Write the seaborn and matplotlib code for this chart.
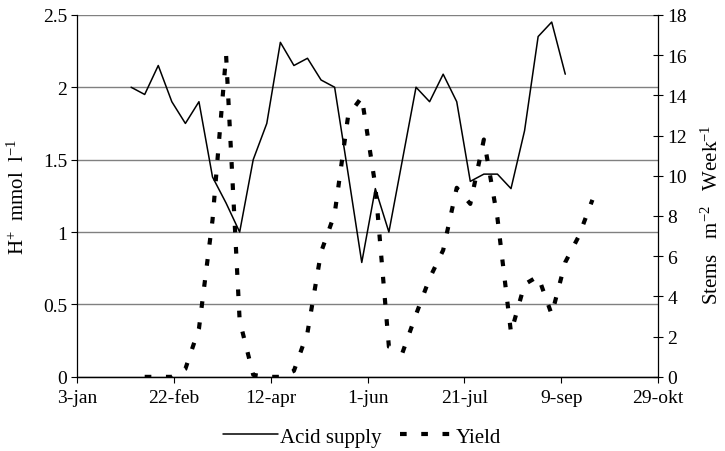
import matplotlib
matplotlib.use('Agg')
import matplotlib.pyplot as plt
import seaborn as sns
import pandas as pd
from matplotlib.lines import Line2D

# days counted from 3-jan
acid_days = [28, 35, 42, 49, 56, 63, 70, 77, 84, 91, 98, 105, 112, 119, 126, 133, 140,
             147, 154, 161, 168, 175, 182, 189, 196, 203, 210, 217, 224, 231, 238, 245, 252]
acid_h = [2.0, 1.95, 2.15, 1.9, 1.75, 1.9, 1.38, 1.2, 1.0, 1.5, 1.75, 2.31, 2.15, 2.2, 2.05, 2.0, 1.4,
          0.79, 1.3, 1.0, 1.5, 2.0, 1.9, 2.09, 1.9, 1.35, 1.4, 1.4, 1.3, 1.7, 2.35, 2.45, 2.09]

yield_days = [35, 42, 49, 56, 63, 70, 77, 84, 91, 98, 105, 112, 119, 126, 133, 140, 147,
              154, 161, 168, 175, 182, 189, 196, 203, 210, 217, 224, 231, 238, 245, 252, 259, 266]
yield_stems = [0, 0, 0, 0.4, 2.4, 7.8, 16.0, 2.8, 0.1, 0, 0, 0.3, 2.2, 6.2, 8.1, 13.0, 13.9,
               9.5, 1.5, 1.2, 3.1, 4.9, 6.3, 9.4, 8.6, 11.8, 7.9, 2.2, 4.6, 5.0, 3.1, 5.7, 7.0, 8.8]

tick_days = [0, 50, 100, 150, 200, 250, 300]
tick_labels = ['3-jan', '22-feb', '12-apr', '1-jun', '21-jul', '9-sep', '29-okt']
left_ticks = [0, 0.5, 1, 1.5, 2, 2.5]
left_labels = ['0', '0.5', '1', '1.5', '2', '2.5']
right_ticks = [0, 2, 4, 6, 8, 10, 12, 14, 16, 18]

sns.set_theme(style='white')
plt.rcParams['font.family'] = ['Liberation Serif', 'DejaVu Serif']
plt.rcParams['mathtext.default'] = 'regular'
plt.rcParams['text.color'] = 'black'
plt.rcParams['axes.labelcolor'] = 'black'
plt.rcParams['xtick.color'] = 'black'
plt.rcParams['ytick.color'] = 'black'
plt.rcParams['axes.edgecolor'] = 'black'

fs = 15      # axis titles, legend
tfs = 14     # tick labels
yield_dash = (1.6, 3.5)

fig, ax = plt.subplots(figsize=(7.25, 4.52), dpi=100)
fig.subplots_adjust(left=0.106, right=0.908, top=0.965, bottom=0.164)
ax2 = ax.twinx()

acid_df = pd.DataFrame({'day': acid_days, 'h': acid_h})
yield_df = pd.DataFrame({'day': yield_days, 'stems': yield_stems})

sns.lineplot(data=acid_df, x='day', y='h', ax=ax, color='black', linewidth=1.1)
sns.lineplot(data=yield_df, x='day', y='stems', ax=ax2, color='black', linewidth=3.0)
ax2.lines[0].set_dashes(yield_dash)
ax2.lines[0].set_dash_capstyle('butt')

ax.set_xlim(0, 300)
ax.set_ylim(0, 2.5)
ax2.set_ylim(0, 18)
ax.set_xticks(tick_days)
ax.set_xticklabels(tick_labels, fontsize=tfs)
ax.set_yticks(left_ticks)
ax.set_yticklabels(left_labels, fontsize=tfs)
ax2.set_yticks(right_ticks)
ax2.set_yticklabels([str(t) for t in right_ticks], fontsize=tfs)

ax.yaxis.grid(True, color='#808080', linewidth=1.0)
ax.xaxis.grid(False)
ax.set_axisbelow(True)

ax.tick_params(axis='x', bottom=True, direction='out', length=4.5, width=0.8, pad=4)
ax.tick_params(axis='y', left=True, direction='out', length=4, width=0.8, pad=3)
ax2.tick_params(axis='y', right=True, direction='inout', length=7, width=0.8, pad=3)

for a in (ax, ax2):
    a.spines['top'].set_visible(False)
    for s in a.spines.values():
        s.set_linewidth(0.9)
ax2.spines['left'].set_visible(False)
ax.spines['right'].set_visible(False)

ax.set_xlabel('')
ax.set_ylabel('')
ax2.set_ylabel('')
fig.text(18 / 725, 1 - 197 / 452, 'H$^{+}$  mmol  l$^{-1}$', rotation=90,
         ha='center', va='center', fontsize=fs)
fig.text(712 / 725, 1 - 215 / 452, 'Stems   m$^{-2}$   Week$^{-1}$', rotation=90,
         ha='center', va='center', fontsize=fs)

handles = [Line2D([], [], color='black', linewidth=1.1),
           Line2D([], [], color='black', linewidth=3.0, dashes=yield_dash, dash_capstyle='butt')]
fig.legend(handles, ['Acid supply', 'Yield'], loc='center', bbox_to_anchor=(0.5, 1 - 438 / 452),
           ncol=2, frameon=False, fontsize=fs, handlelength=2.6, handletextpad=0.1,
           columnspacing=0.9)

fig.savefig('out.png', dpi=100)
